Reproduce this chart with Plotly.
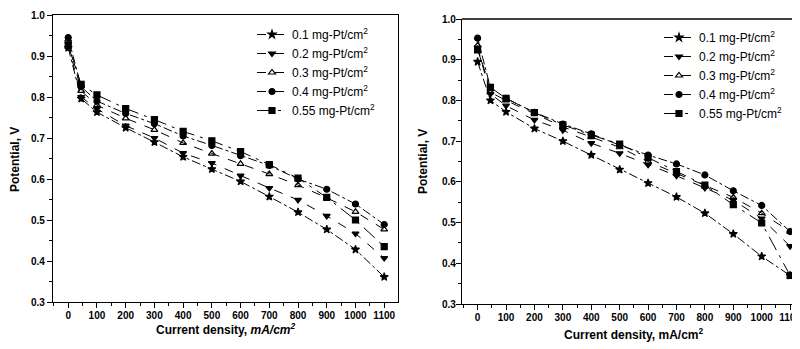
import plotly.graph_objects as go

current = [0, 45, 100, 200, 300, 400, 500, 600, 700, 800, 900, 1000, 1100]
labels = ["0.1 mg-Pt/cm<sup>2</sup>", "0.2 mg-Pt/cm<sup>2</sup>", "0.3 mg-Pt/cm<sup>2</sup>",
          "0.4 mg-Pt/cm<sup>2</sup>", "0.55 mg-Pt/cm<sup>2</sup>"]

# Left panel
left_01 = [0.920, 0.796, 0.763, 0.725, 0.690, 0.654, 0.624, 0.594, 0.557, 0.519, 0.477, 0.428, 0.361]
left_02 = [0.930, 0.800, 0.771, 0.730, 0.700, 0.663, 0.639, 0.608, 0.578, 0.549, 0.510, 0.467, 0.407]
left_03 = [0.940, 0.815, 0.780, 0.748, 0.720, 0.688, 0.662, 0.637, 0.612, 0.585, 0.554, 0.520, 0.477]
left_04 = [0.945, 0.825, 0.790, 0.760, 0.735, 0.705, 0.682, 0.657, 0.633, 0.600, 0.575, 0.539, 0.489]
left_055 = [0.925, 0.831, 0.805, 0.772, 0.745, 0.716, 0.693, 0.667, 0.635, 0.602, 0.555, 0.500, 0.435]

# Right panel
right_01 = [0.895, 0.800, 0.772, 0.731, 0.700, 0.666, 0.630, 0.597, 0.563, 0.523, 0.472, 0.417, 0.370]
right_02 = [0.930, 0.816, 0.787, 0.752, 0.727, 0.695, 0.670, 0.642, 0.615, 0.585, 0.555, 0.510, 0.442]
right_03 = [0.935, 0.820, 0.800, 0.768, 0.735, 0.710, 0.685, 0.650, 0.620, 0.590, 0.562, 0.523, 0.478]
right_04 = [0.953, 0.832, 0.805, 0.771, 0.742, 0.718, 0.690, 0.666, 0.644, 0.617, 0.578, 0.542, 0.478]
right_055 = [0.924, 0.832, 0.805, 0.770, 0.740, 0.715, 0.693, 0.660, 0.625, 0.592, 0.544, 0.499, 0.370]

symbols = ["star", "triangle-down", "triangle-up-open", "circle", "square"]
dashes = ["dashdot", "dash", "dash", "dashdot", "longdashdot"]
sizes = [6, 6, 6, 6, 6]

FONT = "Liberation Sans, Arial, sans-serif"
fig = go.Figure()

for i, ys in enumerate([left_01, left_02, left_03, left_04, left_055]):
    fig.add_trace(go.Scatter(
        x=current, y=ys, mode="lines+markers", name=labels[i],
        line=dict(color="black", width=1, dash=dashes[i]),
        marker=dict(symbol=symbols[i], size=sizes[i], color="black",
                    line=dict(color="black", width=1.2)),
        xaxis="x", yaxis="y", legend="legend"))

for i, ys in enumerate([right_01, right_02, right_03, right_04, right_055]):
    fig.add_trace(go.Scatter(
        x=current, y=ys, mode="lines+markers", name=labels[i],
        line=dict(color="black", width=1, dash=dashes[i]),
        marker=dict(symbol=symbols[i], size=sizes[i], color="black",
                    line=dict(color="black", width=1.2)),
        xaxis="x2", yaxis="y2", legend="legend2"))

W, H = 800, 349
OFF = 8  # page body margin


def px(x):
    return (x - OFF) / W


def py(y):
    return 1 - (y - OFF) / H


def xaxis_common(mirror):
    return dict(
        automargin=False,
        showline=True, linecolor="black", linewidth=1.3, mirror=mirror,
        ticks="outside", ticklen=5, tickwidth=1, tickcolor="black",
        tickmode="array", tickvals=list(range(0, 1101, 100)),
        ticktext=[str(v) for v in range(0, 1101, 100)],
        minor=dict(ticks="outside", ticklen=3, tickcolor="black", dtick=50, tick0=0),
        showgrid=False, zeroline=False,
        tickfont=dict(family=FONT, size=10, color="black", weight="bold"),
    )


def yaxis_common(mirror):
    return dict(
        automargin=False,
        showline=True, linecolor="black", linewidth=1.3, mirror=mirror,
        range=[0.3, 1.0], dtick=0.1, tick0=0.3, tickformat=".1f",
        ticks="outside", ticklen=5, tickwidth=1, tickcolor="black",
        minor=dict(ticks="outside", ticklen=3, tickcolor="black", dtick=0.05),
        showgrid=False, zeroline=False,
        tickfont=dict(family=FONT, size=10, color="black", weight="bold"),
    )


xa = xaxis_common(True)
xa.update(domain=[px(53), px(398)], range=[-53, 1148], anchor="y", ticklabelstandoff=-1)
ya = yaxis_common(True)
ya.update(domain=[py(302), py(15)], anchor="x", ticklabelstandoff=0)

xa2 = xaxis_common(False)
xa2.update(domain=[px(462), 1.0], range=[-55, 1163], anchor="y2", ticklabelstandoff=-1)
ya2 = yaxis_common(False)
ya2.update(domain=[py(304), py(19)], anchor="x2", ticklabelstandoff=-2)

legend_style = dict(
    font=dict(family=FONT, size=12, color="black"),
    bgcolor="rgba(0,0,0,0)", borderwidth=0, itemwidth=30,
    xanchor="left", yanchor="top", tracegroupgap=0,
)

fig.update_layout(
    template="none",
    width=W, height=H,
    margin=dict(l=0, r=0, t=0, b=0, autoexpand=False),
    paper_bgcolor="white", plot_bgcolor="white",
    xaxis=xa, yaxis=ya, xaxis2=xa2, yaxis2=ya2,
    legend=dict(x=px(252), y=py(20), **legend_style),
    legend2=dict(x=px(659), y=py(23), **legend_style),
    shapes=[dict(type="line", xref="paper", yref="paper",
                 x0=px(462), x1=1.0, y0=py(19), y1=py(19),
                 line=dict(color="black", width=1.3))],
    annotations=[
        dict(text="Potential, V", x=px(15), y=py(160), xref="paper", yref="paper",
             xanchor="center", yanchor="middle",
             textangle=-90, showarrow=False,
             font=dict(family=FONT, size=12, color="black", weight="bold")),
        dict(text="Current density, <i>mA/cm<sup>2</sup></i>", x=px(225), y=py(329),
             xref="paper", yref="paper", showarrow=False, xanchor="center", yanchor="middle",
             font=dict(family=FONT, size=12, color="black", weight="bold")),
        dict(text="Potential, V", x=px(423), y=py(162), xref="paper", yref="paper",
             xanchor="center", yanchor="middle",
             textangle=-90, showarrow=False,
             font=dict(family=FONT, size=12, color="black", weight="bold")),
        dict(text="Current density, mA/cm<sup>2</sup>", x=px(633), y=py(334),
             xref="paper", yref="paper", showarrow=False, xanchor="center", yanchor="middle",
             font=dict(family=FONT, size=12, color="black", weight="bold")),
    ],
)

fig.write_html("out.html")
